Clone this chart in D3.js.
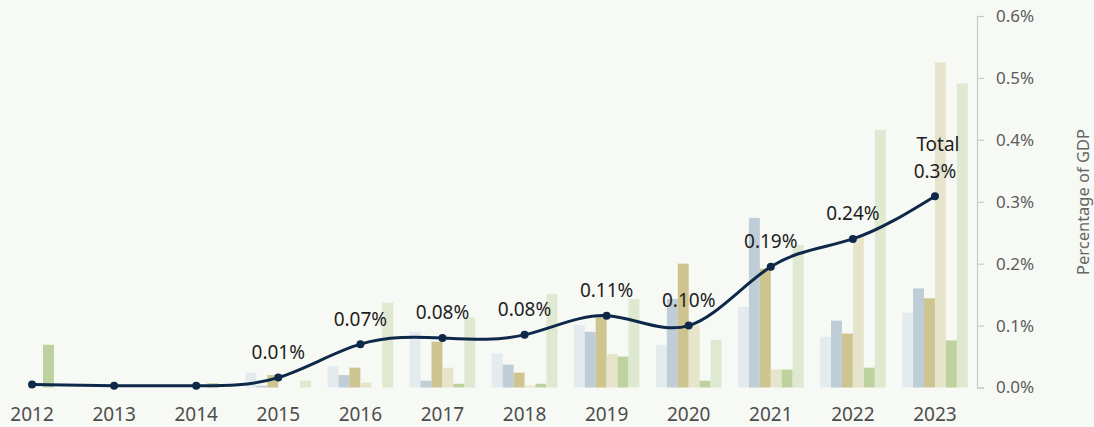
<!DOCTYPE html>
<html lang="en">
<head>
    <meta charset="UTF-8">
    <title>Percentage of GDP</title>
    <script src="https://d3js.org/d3.v7.min.js"></script>
    <style>
        html, body { margin: 0; padding: 0; background: #f7f9f4; }
        svg text { font-family: "Noto Sans", "Open Sans", sans-serif; }
    </style>
</head>
<body>
    <svg width="1094" height="427"></svg>

    <script>
        // data
        const years = ["2012", "2013", "2014", "2015", "2016", "2017", "2018", "2019", "2020", "2021", "2022", "2023"];
        const seriesNames = ["Series 1", "Series 2", "Series 3", "Series 4", "Series 5", "Series 6"];
        const series1 = [0, 0, 0, 0.024, 0.034, 0.090, 0.055, 0.101, 0.069, 0.130, 0.082, 0.121];
        const series2 = [0, 0, 0, 0.003, 0.020, 0.011, 0.037, 0.090, 0.143, 0.274, 0.108, 0.160];
        const series3 = [0, 0, 0, 0.020, 0.032, 0.074, 0.024, 0.115, 0.200, 0.192, 0.087, 0.144];
        const series4 = [0, 0, 0, 0, 0.008, 0.032, 0.003, 0.054, 0.100, 0.029, 0.243, 0.525];
        const series5 = [0.069, 0, 0.007, 0, 0, 0.006, 0.006, 0.050, 0.011, 0.029, 0.032, 0.076];
        const series6 = [0, 0, 0, 0.011, 0.137, 0.113, 0.151, 0.143, 0.077, 0.230, 0.416, 0.491];
        const total = [0.005, 0.003, 0.003, 0.016, 0.070, 0.080, 0.085, 0.116, 0.100, 0.195, 0.240, 0.309];
        const totalLabels = ["", "", "", "0.01%", "0.07%", "0.08%", "0.08%", "0.11%", "0.10%", "0.19%", "0.24%", "0.3%"];
        const yTicks = [0, 0.1, 0.2, 0.3, 0.4, 0.5, 0.6];

        const allSeries = [series1, series2, series3, series4, series5, series6];
        const colors = ["#e4ebef", "#bfcdd7", "#cec490", "#e7e4cc", "#bdd29e", "#dfe8d0"];

        const svg = d3.select("svg");
        const axisX = 977;

        const x = d3.scaleBand()
            .domain(years)
            .range([-9, 976])
            .paddingInner(0.2)
            .paddingOuter(0.1);

        const xInner = d3.scaleBand()
            .domain(d3.range(seriesNames.length))
            .range([0, x.bandwidth()]);

        const y = d3.scaleLinear()
            .domain([0, 0.6])
            .range([387.5, 16]);

        // bars
        const groups = svg.append("g")
            .selectAll("g")
            .data(years)
            .join("g")
            .attr("transform", d => `translate(${x(d)},0)`);

        groups.selectAll("rect")
            .data((d, i) => allSeries.map((s, k) => ({ k, v: s[i] })))
            .join("rect")
            .attr("x", d => xInner(d.k))
            .attr("width", xInner.bandwidth())
            .attr("y", d => y(d.v))
            .attr("height", d => y(0) - y(d.v))
            .attr("fill", d => colors[d.k]);

        // right axis
        const yAxis = svg.append("g")
            .attr("transform", `translate(${axisX},0)`)
            .call(d3.axisRight(y)
                .tickValues(yTicks)
                .tickSize(7)
                .tickPadding(12)
                .tickFormat(d => d.toFixed(1) + "%"));
        yAxis.select(".domain").attr("stroke", "#c9cbc7").attr("stroke-width", 1.2);
        yAxis.selectAll(".tick line").attr("stroke", "#c9cbc7").attr("stroke-width", 1.2);
        yAxis.selectAll(".tick text")
            .attr("fill", "#5c5c5c")
            .style("font-size", "17px");

        svg.append("text")
            .attr("transform", "translate(1089,202) rotate(-90)")
            .attr("text-anchor", "middle")
            .attr("fill", "#666")
            .style("font-size", "16.5px")
            .text("Percentage of GDP");

        // year labels
        svg.append("g")
            .selectAll("text")
            .data(years)
            .join("text")
            .attr("x", d => x(d) + x.bandwidth() / 2)
            .attr("y", 421)
            .attr("text-anchor", "middle")
            .attr("fill", "#4d4d4d")
            .style("font-size", "19px")
            .text(d => d);

        // total line
        const cx = d => x(d) + x.bandwidth() / 2;
        const line = d3.line()
            .x((d, i) => cx(years[i]))
            .y(d => y(d))
            .curve(d3.curveNatural);

        svg.append("path")
            .datum(total)
            .attr("d", line)
            .attr("fill", "none")
            .attr("stroke", "#0e2849")
            .attr("stroke-width", 3);

        svg.append("g")
            .selectAll("circle")
            .data(total)
            .join("circle")
            .attr("cx", (d, i) => cx(years[i]))
            .attr("cy", d => y(d))
            .attr("r", 4)
            .attr("fill", "#0e2849");

        svg.append("g")
            .selectAll("text")
            .data(total)
            .join("text")
            .attr("x", (d, i) => cx(years[i]))
            .attr("y", d => y(d) - 18.5)
            .attr("text-anchor", "middle")
            .attr("fill", "#1e1e1e")
            .style("font-size", "19px")
            .text((d, i) => totalLabels[i]);

        const last = total.length - 1;
        svg.append("text")
            .attr("x", cx(years[last]) + 3)
            .attr("y", y(total[last]) - 45)
            .attr("text-anchor", "middle")
            .attr("fill", "#1e1e1e")
            .style("font-size", "19px")
            .text("Total");
    </script>
</body>
</html>
